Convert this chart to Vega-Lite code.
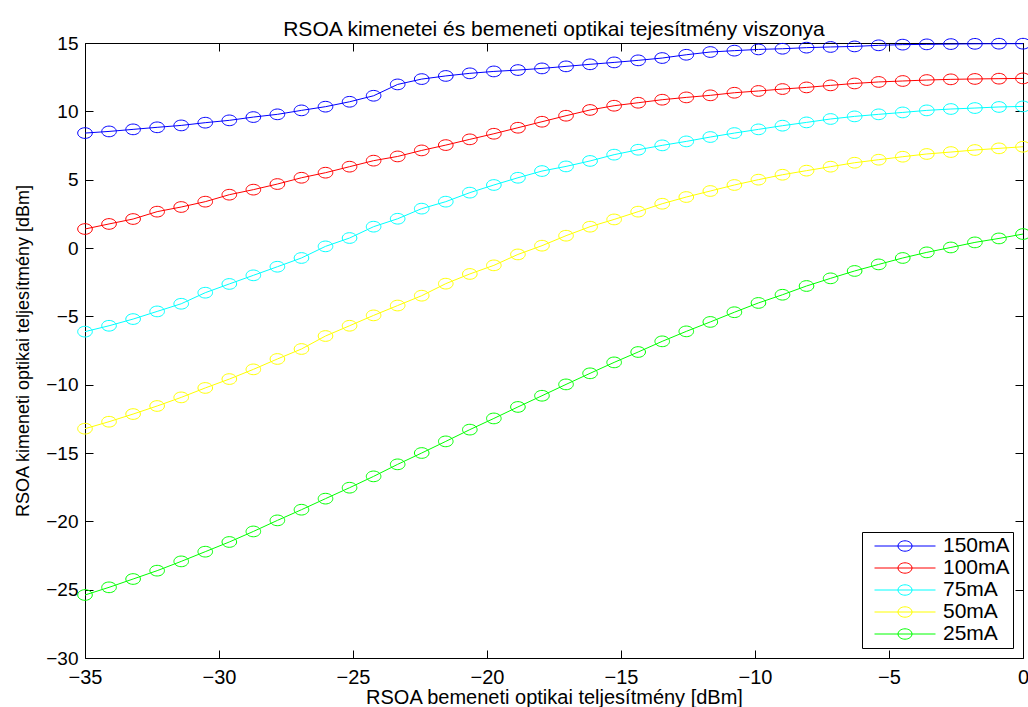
{
  "$schema": "https://vega.github.io/schema/vega-lite/v6.json",
  "width": 938,
  "height": 615,
  "autosize": "none",
  "padding": {"left": 85, "top": 43, "right": 5, "bottom": 49},
  "background": "white",
  "config": {
    "font": "Liberation Sans",
    "view": {"stroke": "black", "strokeWidth": 1},
    "axis": {
      "domain": false,
      "grid": false,
      "tickSize": -8,
      "tickColor": "black",
      "tickWidth": 1,
      "labelFont": "Liberation Sans",
      "labelFontSize": 20,
      "labelColor": "black",
      "labelFlush": false,
      "labelOverlap": false,
      "titleFont": "Liberation Sans",
      "titleFontSize": 20,
      "titleFontWeight": "normal",
      "titleColor": "black"
    }
  },
  "title": {
    "text": "RSOA kimenetei és bemeneti optikai tejesítmény viszonya",
    "font": "Liberation Sans",
    "fontSize": 21,
    "fontWeight": "normal",
    "color": "black",
    "anchor": "middle",
    "offset": -6
  },
  "data": {
    "values": [
      {"c":"150mA","x":-35,"y":8.41},{"c":"150mA","x":-34.103,"y":8.53},{"c":"150mA","x":-33.205,"y":8.68},{"c":"150mA","x":-32.308,"y":8.83},{"c":"150mA","x":-31.410,"y":8.97},
      {"c":"150mA","x":-30.513,"y":9.17},{"c":"150mA","x":-29.615,"y":9.34},{"c":"150mA","x":-28.718,"y":9.58},{"c":"150mA","x":-27.821,"y":9.78},{"c":"150mA","x":-26.923,"y":10.07},
      {"c":"150mA","x":-26.026,"y":10.34},{"c":"150mA","x":-25.128,"y":10.70},{"c":"150mA","x":-24.231,"y":11.14},{"c":"150mA","x":-23.333,"y":11.97},{"c":"150mA","x":-22.436,"y":12.36},
      {"c":"150mA","x":-21.538,"y":12.59},{"c":"150mA","x":-20.641,"y":12.78},{"c":"150mA","x":-19.744,"y":12.92},{"c":"150mA","x":-18.846,"y":13.02},{"c":"150mA","x":-17.949,"y":13.14},
      {"c":"150mA","x":-17.051,"y":13.29},{"c":"150mA","x":-16.154,"y":13.44},{"c":"150mA","x":-15.256,"y":13.58},{"c":"150mA","x":-14.359,"y":13.73},{"c":"150mA","x":-13.462,"y":13.90},
      {"c":"150mA","x":-12.564,"y":14.14},{"c":"150mA","x":-11.667,"y":14.34},{"c":"150mA","x":-10.769,"y":14.44},{"c":"150mA","x":-9.872,"y":14.53},{"c":"150mA","x":-8.974,"y":14.58},
      {"c":"150mA","x":-8.077,"y":14.66},{"c":"150mA","x":-7.179,"y":14.71},{"c":"150mA","x":-6.282,"y":14.75},{"c":"150mA","x":-5.385,"y":14.83},{"c":"150mA","x":-4.487,"y":14.88},
      {"c":"150mA","x":-3.590,"y":14.90},{"c":"150mA","x":-2.692,"y":14.92},{"c":"150mA","x":-1.795,"y":14.94},{"c":"150mA","x":-0.897,"y":14.95},{"c":"150mA","x":0,"y":14.95},

      {"c":"100mA","x":-35,"y":1.39},{"c":"100mA","x":-34.103,"y":1.76},{"c":"100mA","x":-33.205,"y":2.12},{"c":"100mA","x":-32.308,"y":2.66},{"c":"100mA","x":-31.410,"y":3.00},
      {"c":"100mA","x":-30.513,"y":3.39},{"c":"100mA","x":-29.615,"y":3.90},{"c":"100mA","x":-28.718,"y":4.27},{"c":"100mA","x":-27.821,"y":4.68},{"c":"100mA","x":-26.923,"y":5.14},
      {"c":"100mA","x":-26.026,"y":5.51},{"c":"100mA","x":-25.128,"y":5.95},{"c":"100mA","x":-24.231,"y":6.39},{"c":"100mA","x":-23.333,"y":6.70},{"c":"100mA","x":-22.436,"y":7.14},
      {"c":"100mA","x":-21.538,"y":7.53},{"c":"100mA","x":-20.641,"y":7.95},{"c":"100mA","x":-19.744,"y":8.36},{"c":"100mA","x":-18.846,"y":8.80},{"c":"100mA","x":-17.949,"y":9.24},
      {"c":"100mA","x":-17.051,"y":9.68},{"c":"100mA","x":-16.154,"y":10.10},{"c":"100mA","x":-15.256,"y":10.41},{"c":"100mA","x":-14.359,"y":10.63},{"c":"100mA","x":-13.462,"y":10.85},
      {"c":"100mA","x":-12.564,"y":11.02},{"c":"100mA","x":-11.667,"y":11.17},{"c":"100mA","x":-10.769,"y":11.36},{"c":"100mA","x":-9.872,"y":11.49},{"c":"100mA","x":-8.974,"y":11.63},
      {"c":"100mA","x":-8.077,"y":11.75},{"c":"100mA","x":-7.179,"y":11.90},{"c":"100mA","x":-6.282,"y":12.04},{"c":"100mA","x":-5.385,"y":12.15},{"c":"100mA","x":-4.487,"y":12.22},
      {"c":"100mA","x":-3.590,"y":12.29},{"c":"100mA","x":-2.692,"y":12.34},{"c":"100mA","x":-1.795,"y":12.37},{"c":"100mA","x":-0.897,"y":12.39},{"c":"100mA","x":0,"y":12.41},

      {"c":"75mA","x":-35,"y":-6.12},{"c":"75mA","x":-34.103,"y":-5.69},{"c":"75mA","x":-33.205,"y":-5.20},{"c":"75mA","x":-32.308,"y":-4.64},{"c":"75mA","x":-31.410,"y":-4.08},
      {"c":"75mA","x":-30.513,"y":-3.27},{"c":"75mA","x":-29.615,"y":-2.63},{"c":"75mA","x":-28.718,"y":-2.00},{"c":"75mA","x":-27.821,"y":-1.37},{"c":"75mA","x":-26.923,"y":-0.73},
      {"c":"75mA","x":-26.026,"y":0.12},{"c":"75mA","x":-25.128,"y":0.73},{"c":"75mA","x":-24.231,"y":1.56},{"c":"75mA","x":-23.333,"y":2.14},{"c":"75mA","x":-22.436,"y":2.88},
      {"c":"75mA","x":-21.538,"y":3.39},{"c":"75mA","x":-20.641,"y":4.05},{"c":"75mA","x":-19.744,"y":4.61},{"c":"75mA","x":-18.846,"y":5.14},{"c":"75mA","x":-17.949,"y":5.63},
      {"c":"75mA","x":-17.051,"y":5.97},{"c":"75mA","x":-16.154,"y":6.37},{"c":"75mA","x":-15.256,"y":6.83},{"c":"75mA","x":-14.359,"y":7.19},{"c":"75mA","x":-13.462,"y":7.51},
      {"c":"75mA","x":-12.564,"y":7.80},{"c":"75mA","x":-11.667,"y":8.12},{"c":"75mA","x":-10.769,"y":8.41},{"c":"75mA","x":-9.872,"y":8.68},{"c":"75mA","x":-8.974,"y":8.95},
      {"c":"75mA","x":-8.077,"y":9.19},{"c":"75mA","x":-7.179,"y":9.44},{"c":"75mA","x":-6.282,"y":9.63},{"c":"75mA","x":-5.385,"y":9.78},{"c":"75mA","x":-4.487,"y":9.92},
      {"c":"75mA","x":-3.590,"y":10.07},{"c":"75mA","x":-2.692,"y":10.17},{"c":"75mA","x":-1.795,"y":10.24},{"c":"75mA","x":-0.897,"y":10.32},{"c":"75mA","x":0,"y":10.36},

      {"c":"50mA","x":-35,"y":-13.22},{"c":"50mA","x":-34.103,"y":-12.71},{"c":"50mA","x":-33.205,"y":-12.15},{"c":"50mA","x":-32.308,"y":-11.56},{"c":"50mA","x":-31.410,"y":-10.93},
      {"c":"50mA","x":-30.513,"y":-10.24},{"c":"50mA","x":-29.615,"y":-9.59},{"c":"50mA","x":-28.718,"y":-8.88},{"c":"50mA","x":-27.821,"y":-8.12},{"c":"50mA","x":-26.923,"y":-7.39},
      {"c":"50mA","x":-26.026,"y":-6.44},{"c":"50mA","x":-25.128,"y":-5.69},{"c":"50mA","x":-24.231,"y":-4.93},{"c":"50mA","x":-23.333,"y":-4.21},{"c":"50mA","x":-22.436,"y":-3.49},
      {"c":"50mA","x":-21.538,"y":-2.61},{"c":"50mA","x":-20.641,"y":-1.90},{"c":"50mA","x":-19.744,"y":-1.27},{"c":"50mA","x":-18.846,"y":-0.47},{"c":"50mA","x":-17.949,"y":0.17},
      {"c":"50mA","x":-17.051,"y":0.90},{"c":"50mA","x":-16.154,"y":1.56},{"c":"50mA","x":-15.256,"y":2.09},{"c":"50mA","x":-14.359,"y":2.66},{"c":"50mA","x":-13.462,"y":3.24},
      {"c":"50mA","x":-12.564,"y":3.73},{"c":"50mA","x":-11.667,"y":4.17},{"c":"50mA","x":-10.769,"y":4.61},{"c":"50mA","x":-9.872,"y":5.00},{"c":"50mA","x":-8.974,"y":5.36},
      {"c":"50mA","x":-8.077,"y":5.66},{"c":"50mA","x":-7.179,"y":5.95},{"c":"50mA","x":-6.282,"y":6.24},{"c":"50mA","x":-5.385,"y":6.46},{"c":"50mA","x":-4.487,"y":6.68},
      {"c":"50mA","x":-3.590,"y":6.88},{"c":"50mA","x":-2.692,"y":7.02},{"c":"50mA","x":-1.795,"y":7.17},{"c":"50mA","x":-0.897,"y":7.29},{"c":"50mA","x":0,"y":7.41},

      {"c":"25mA","x":-35,"y":-25.39},{"c":"25mA","x":-34.103,"y":-24.83},{"c":"25mA","x":-33.205,"y":-24.22},{"c":"25mA","x":-32.308,"y":-23.61},{"c":"25mA","x":-31.410,"y":-22.93},
      {"c":"25mA","x":-30.513,"y":-22.22},{"c":"25mA","x":-29.615,"y":-21.51},{"c":"25mA","x":-28.718,"y":-20.74},{"c":"25mA","x":-27.821,"y":-19.93},{"c":"25mA","x":-26.923,"y":-19.15},
      {"c":"25mA","x":-26.026,"y":-18.34},{"c":"25mA","x":-25.128,"y":-17.54},{"c":"25mA","x":-24.231,"y":-16.71},{"c":"25mA","x":-23.333,"y":-15.83},{"c":"25mA","x":-22.436,"y":-15.00},
      {"c":"25mA","x":-21.538,"y":-14.15},{"c":"25mA","x":-20.641,"y":-13.29},{"c":"25mA","x":-19.744,"y":-12.47},{"c":"25mA","x":-18.846,"y":-11.63},{"c":"25mA","x":-17.949,"y":-10.81},
      {"c":"25mA","x":-17.051,"y":-9.98},{"c":"25mA","x":-16.154,"y":-9.17},{"c":"25mA","x":-15.256,"y":-8.37},{"c":"25mA","x":-14.359,"y":-7.61},{"c":"25mA","x":-13.462,"y":-6.83},
      {"c":"25mA","x":-12.564,"y":-6.10},{"c":"25mA","x":-11.667,"y":-5.41},{"c":"25mA","x":-10.769,"y":-4.70},{"c":"25mA","x":-9.872,"y":-4.02},{"c":"25mA","x":-8.974,"y":-3.42},
      {"c":"25mA","x":-8.077,"y":-2.78},{"c":"25mA","x":-7.179,"y":-2.22},{"c":"25mA","x":-6.282,"y":-1.68},{"c":"25mA","x":-5.385,"y":-1.20},{"c":"25mA","x":-4.487,"y":-0.73},
      {"c":"25mA","x":-3.590,"y":-0.32},{"c":"25mA","x":-2.692,"y":0.04},{"c":"25mA","x":-1.795,"y":0.41},{"c":"25mA","x":-0.897,"y":0.70},{"c":"25mA","x":0,"y":1.02}
    ]
  },
  "layer": [
    {
      "mark": {"type": "line", "strokeWidth": 1, "clip": false},
      "encoding": {
        "x": {"field": "x", "type": "quantitative",
              "scale": {"domain": [-35, 0], "nice": false, "zero": false},
              "axis": {"orient": "bottom", "values": [-35, -30, -25, -20, -15, -10, -5, 0], "labelPadding": 17, "title": "RSOA bemeneti optikai teljesítmény [dBm]", "titlePadding": 0}},
        "y": {"field": "y", "type": "quantitative",
              "scale": {"domain": [-30, 15], "nice": false, "zero": false},
              "axis": {"orient": "left", "values": [-30, -25, -20, -15, -10, -5, 0, 5, 10, 15], "labelPadding": 15, "labelFontSize": 19, "title": "RSOA kimeneti optikai teljesítmény [dBm]", "titleFontSize": 18, "titlePadding": 13}},
        "color": {"field": "c", "type": "nominal",
                  "scale": {"domain": ["150mA", "100mA", "75mA", "50mA", "25mA"], "range": ["#0000ff", "#ff0000", "#00ffff", "#ffff00", "#00ff00"]},
                  "legend": {
                    "title": null,
                    "orient": "bottom-right",
                    "offset": 10,
                    "padding": 3,
                    "strokeColor": "black",
                    "fillColor": "white",
                    "cornerRadius": 0,
                    "symbolType": "M-1,0H1M-0.23,0A0.23,0.17 0 1,1 0.23,0A0.23,0.17 0 1,1 -0.23,0Z",
                    "symbolSize": 3721,
                    "symbolStrokeWidth": 1,
                    "symbolFillColor": "transparent",
                    "symbolOffset": 9,
                    "clipHeight": 22,
                    "rowPadding": 0,
                    "labelOffset": 7,
                    "labelFont": "Liberation Sans",
                    "labelFontSize": 21,
                    "labelColor": "black",
                    "encode": {"symbols": {"update": {"fill": {"value": "transparent"}, "strokeWidth": {"value": 1}}}}
                  }},
        "order": {"field": "x", "type": "quantitative"}
      }
    },
    {
      "mark": {"type": "point", "shape": "M-1,0A1,0.73 0 1,1 1,0A1,0.73 0 1,1 -1,0Z", "size": 213, "filled": false, "strokeWidth": 1, "opacity": 1, "clip": false},
      "encoding": {
        "x": {"field": "x", "type": "quantitative", "axis": null},
        "y": {"field": "y", "type": "quantitative", "axis": null},
        "color": {"field": "c", "type": "nominal", "legend": null}
      }
    },
    {
      "mark": {"type": "point", "opacity": 0},
      "encoding": {
        "x": {"field": "x", "type": "quantitative",
              "axis": {"orient": "top", "values": [-35, -30, -25, -20, -15, -10, -5, 0], "labels": false, "title": null}},
        "y": {"field": "y", "type": "quantitative",
              "axis": {"orient": "right", "values": [-30, -25, -20, -15, -10, -5, 0, 5, 10, 15], "labels": false, "title": null}}
      }
    }
  ],
  "resolve": {"axis": {"x": "independent", "y": "independent"}}
}
